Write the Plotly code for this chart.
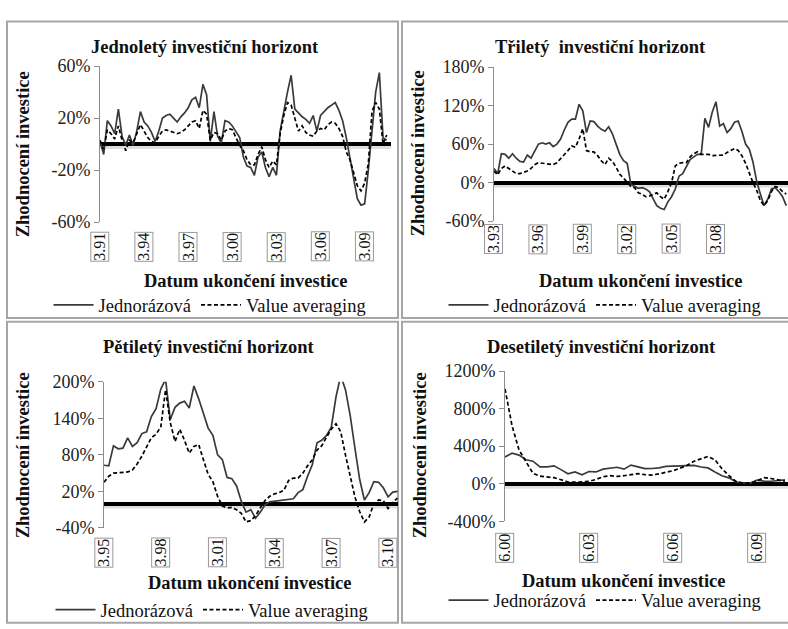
import plotly.graph_objects as go

W, H = 788, 629
STEP = 3          # months between stored values
TICK_EVERY = 36   # months between category labels

# ---------------- data (returns in %) ----------------
p1_ticks = ["3.91", "3.94", "3.97", "3.00", "3.03", "3.06", "3.09"]
p1_jedno = [2, -8, 18, 14, 8, 27, 6, -1, 7, -1, 10, 25,
            17, 14, 9, 2, 10, 20, 22, 23, 20, 17, 21, 24,
            28, 34, 36, 28, 46, 38, 2, 25, 6, 1, 18, 17,
            14, 10, 5, -10, -17, -18, -24, -10, -6, -18, -25, -18,
            -24, 10, 26, 40, 53, 27, 24, 21, 19, 16, 22, 10,
            22, 25, 28, 30, 32, 26, 18, 5, -10, -27, -42, -47,
            -46, -20, 8, 40, 55, 5, 3]
p1_va = [3, -4, 11, 8, 4, 14, 3, -5, 3, 1, 8, 15,
         10, 5, 2, 1, 6, 10, 11, 10, 9, 8, 9, 11,
         14, 17, 18, 12, 26, 23, 3, 9, 8, 3, 10, 12,
         11, 5, -1, -5, -12, -16, -16, -8, -2, -12, -18, -13,
         -16, 8, 22, 32, 30, 20, 10, 14, 9, 7, 6, 10,
         12, 11, 15, 17, 16, 12, 6, -6, -12, -22, -32, -36,
         -30, -15, 25, 32, 27, 0, 7]

p2_ticks = ["3.93", "3.96", "3.99", "3.02", "3.05", "3.08"]
p2_jedno = [22, 14, 45, 44, 38, 45, 38, 33, 32, 43, 38, 50,
            60, 62, 60, 62, 56, 60, 68, 82, 94, 99, 99, 122,
            112, 78, 96, 95, 88, 83, 80, 87, 76, 60, 44, 34,
            30, -3, -6, -9, -8, -10, -14, -26, -36, -40, -42, -30,
            -22, -10, 10, 14, 24, 36, 40, 44, 44, 100, 86, 110,
            126, 88, 92, 78, 84, 94, 96, 80, 60, 52, 32, 2,
            -18, -36, -26, -10, -8, -14, -22, -36]
p2_va = [18, 12, 22, 26, 22, 18, 14, 14, 16, 18, 22, 28,
         31, 30, 29, 29, 28, 31, 37, 44, 50, 57, 55, 68,
         84, 50, 48, 48, 42, 34, 28, 38, 33, 24, 13, 7,
         0, -6, -8, -16, -18, -22, -21, -18, -16, -22, -26, -14,
         0, 26, 30, 31, 31, 40, 45, 48, 44, 44, 44, 42,
         42, 42, 43, 47, 50, 53, 50, 42, 30, 14, 0, -12,
         -28, -36, -28, -14, -6, -8, -14, -18]

p3_ticks = ["3.95", "3.98", "3.01", "3.04", "3.07", "3.10"]
p3_jedno = [63, 62, 95, 90, 91, 108, 94, 100, 115, 118, 143, 156,
            188, 204, 138, 158, 165, 168, 157, 193, 172, 149, 124, 112,
            80, 72, 43, 41, 29, 4, -14, -10, -24, -14, -2, 3,
            4, 5, 6, 7, 8, 18, 23, 45, 64, 100, 104, 112,
            125, 175, 210, 187, 145, 91, 40, 6, 18, 36, 35, 26,
            11, 19, 20]
p3_va = [35, 45, 50, 51, 51, 52, 55, 65, 78, 92, 108, 114,
         126, 187, 133, 102, 122, 104, 83, 94, 97, 72, 48, 36,
         12, -4, -7, -6, -10, -16, -30, -28, -20, -7, 5, 12,
         16, 18, 22, 38, 42, 42, 50, 62, 72, 88, 95, 109,
         122, 131, 118, 80, 44, 11, -13, -30, -22, 0, 6, 5,
         -8, 2, 9]

p4_ticks = ["6.00", "6.03", "6.06", "6.09"]
p4_jedno = [285, 325, 305, 255, 240, 180, 180, 190, 150, 105, 125, 95,
            130, 125, 155, 168, 175, 155, 198, 180, 160, 162, 168, 185,
            188, 190, 200, 195, 178, 168, 125, 85, 62, 20, 5, 4,
            38, 28, 26, 35, 40]
p4_va = [1010, 620, 360, 230, 110, 80, 72, 64, 42, 18, 16, 18,
         25, 45, 74, 85, 78, 85, 100, 108, 96, 92, 105, 118,
         138, 165, 195, 240, 265, 290, 255, 160, 85, 25, 6, 6,
         30, 65, 55, 38, 26]

titles = ["Jednoletý investiční horizont", "Třiletý  investiční horizont",
          "Pětiletý investiční horizont", "Desetiletý investiční horizont"]
y_title = "Zhodnocení investice"
x_title = "Datum ukončení investice"
name_j = "Jednorázová"
name_va = "Value averaging"

# ---------------- layout helpers (pixel -> paper) ----------------
def px(x):
    return x / W

def py(y):
    return 1 - y / H

FONT = "Liberation Serif, Times New Roman, serif"
SOLID = "#3a3a3a"
BORDER = "#a6a6a6"

panels = [
    dict(j=p1_jedno, va=p1_va, ticks=p1_ticks, xd=(100, 391), yd=(219, 58), xmax=237.5,
         yr=(-60, 60), yt=[-60, -20, 20, 60], title=(205, 38), ytl=(23, 149), xtl=(246, 280),
         leg=(210, 305), box=229),
    dict(j=p2_jedno, va=p2_va, ticks=p2_ticks, xd=(494, 788), yd=(218, 59), xmax=238.4,
         yr=(-60, 180), yt=[-60, 0, 60, 120, 180], title=(600, 38), ytl=(418, 148), xtl=(641, 280),
         leg=(605, 305), box=221),
    dict(j=p3_jedno, va=p3_va, ticks=p3_ticks, xd=(104, 398), yd=(535, 384), xmax=186.3,
         yr=(-40, 200), yt=[-40, 20, 80, 140, 200], title=(208, 348), ytl=(23, 460), xtl=(250, 592),
         leg=(212, 620), box=545),
    dict(j=p4_jedno, va=p4_va, ticks=p4_ticks, xd=(505, 788), yd=(528, 373), xmax=121.3,
         yr=(-400, 1200), yt=[-400, 0, 400, 800, 1200], title=(601, 348), ytl=(420, 460), xtl=(624, 590),
         leg=(605, 610), box=540),
]

fig = go.Figure()
annotations = []
shapes = []
layout_extra = {}

for k, p in enumerate(panels, start=1):
    sfx = "" if k == 1 else str(k)
    xa, ya = "x" + sfx, "y" + sfx
    leg = "legend" + sfx
    months_j = [i * STEP for i in range(len(p["j"]))]
    months_va = [i * STEP for i in range(len(p["va"]))]
    fig.add_trace(go.Scatter(x=months_j, y=p["j"], mode="lines", name=name_j,
                             line=dict(color=SOLID, width=1.7), xaxis=xa, yaxis=ya, legend=leg))
    fig.add_trace(go.Scatter(x=months_va, y=p["va"], mode="lines", name=name_va,
                             line=dict(color="black", width=1.7, dash="4px,2.5px"),
                             xaxis=xa, yaxis=ya, legend=leg))

    layout_extra["xaxis" + sfx] = dict(
        domain=[px(p["xd"][0]), px(p["xd"][1])], range=[0, p["xmax"]], anchor=ya,
        showticklabels=False, ticks="", showline=False, showgrid=False, zeroline=False,
        fixedrange=True)
    layout_extra["yaxis" + sfx] = dict(
        domain=[py(p["yd"][0]), py(p["yd"][1])], range=list(p["yr"]), anchor=xa,
        tickmode="array", tickvals=p["yt"], ticktext=[f"{v}%" for v in p["yt"]],
        ticks="outside", ticklen=5, tickwidth=1,
        tickcolor="#8c8c8c", showline=True, linecolor="#8c8c8c", linewidth=1,
        showgrid=False, zeroline=True, zerolinecolor="black", zerolinewidth=3.5,
        tickfont=dict(family=FONT, size=18, color="#222"), fixedrange=True)
    layout_extra[leg] = dict(
        orientation="h", x=px(p["leg"][0]), y=py(p["leg"][1]), xanchor="center",
        yanchor="middle", font=dict(family=FONT, size=18.5, color="#111"),
        bgcolor="rgba(0,0,0,0)", itemwidth=40, traceorder="normal")

    # soft shadow under the zero line
    shapes.append(dict(type="rect", xref=xa + " domain", yref=ya, ysizemode="pixel",
                       yanchor=0, x0=0, x1=1, y0=-2, y1=-5, fillcolor="#dedede",
                       line=dict(width=0), layer="below"))

    annotations.append(dict(text=titles[k - 1], xref="paper", yref="paper",
                            x=px(p["title"][0]), y=py(p["title"][1]), xanchor="center",
                            yanchor="middle", showarrow=False,
                            font=dict(family=FONT, size=18.5, color="#111", weight="bold")))
    annotations.append(dict(text=y_title, xref="paper", yref="paper", textangle=-90,
                            x=px(p["ytl"][0]), y=py(p["ytl"][1]), xanchor="center",
                            yanchor="middle", showarrow=False,
                            font=dict(family=FONT, size=18.5, color="#111", weight="bold")))
    annotations.append(dict(text=x_title, xref="paper", yref="paper",
                            x=px(p["xtl"][0]), y=py(p["xtl"][1]), xanchor="center",
                            yanchor="middle", showarrow=False,
                            font=dict(family=FONT, size=18.5, color="#111", weight="bold")))
    # boxed category labels
    for i, lab in enumerate(p["ticks"]):
        annotations.append(dict(text=lab, xref=xa, yref="paper", x=i * TICK_EVERY,
                                y=py(p["box"]), xanchor="center", yanchor="top",
                                textangle=-90, showarrow=False, borderpad=0,
                                bordercolor="#9a9a9a", borderwidth=1, bgcolor="white",
                                font=dict(family=FONT, size=16, color="#111")))

# panel frames
for (x0, y0, x1, y1) in [(7, 12, 398, 318), (402, 12, 792, 318),
                          (7, 322, 398, 633), (402, 322, 792, 633)]:
    shapes.append(dict(type="rect", xref="paper", yref="paper",
                       x0=px(x0), x1=px(x1), y0=py(y1), y1=py(y0),
                       line=dict(color=BORDER, width=2), fillcolor="rgba(0,0,0,0)",
                       layer="below"))

fig.update_layout(
    width=W, height=H, margin=dict(l=0, r=0, t=0, b=0),
    paper_bgcolor="white", plot_bgcolor="rgba(0,0,0,0)",
    annotations=annotations, shapes=shapes, **layout_extra,
)

fig.write_html("out.html", config={"displayModeBar": False},
               post_script="document.documentElement.style.margin='0';"
                           "document.body.style.margin='0';"
                           "document.body.style.padding='0';"
                           "document.body.style.overflow='hidden';"
                           "var d=document.getElementById('{plot_id}');"
                           "d.style.position='fixed';d.style.left='0';d.style.top='0';")
